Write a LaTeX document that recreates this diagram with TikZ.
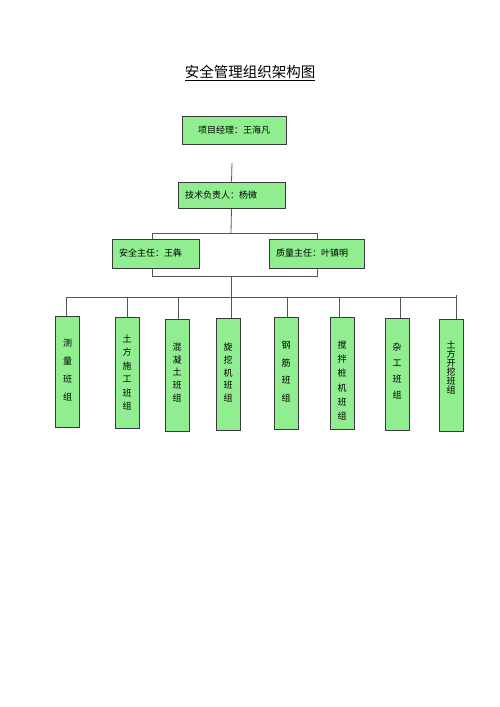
\documentclass[tikz,border=0pt]{standalone}
\usepackage{fontspec}
\setmainfont{Noto Sans CJK SC}
\usetikzlibrary{backgrounds}
\definecolor{boxgreen}{HTML}{90EE90}
\definecolor{boxline}{HTML}{3A3A3A}
\definecolor{linegray}{HTML}{555555}
\begin{document}
\begin{tikzpicture}[x=1pt,y=-1pt,
  box/.style={draw=boxline, fill=boxgreen, line width=0.8pt, inner sep=0pt,
              font=\fontsize{9}{11}\selectfont},
  lbox/.style={box, inner xsep=7pt, align=left},
  colbox/.style={box, minimum width=24pt},
  conn/.style={draw=linegray, line width=0.8pt},
  coltext/.style={font=\fontsize{9}{#1}\selectfont, align=center, inner sep=0pt}]
\useasboundingbox (0,0) rectangle (500,707);

\node[font=\fontsize{14.5}{17}\selectfont] (title) at (250,73) {\underline{安全管理组织架构图}};

\node[box, minimum width=104pt, minimum height=28pt] (pm) at (234,130) {项目经理：王海凡};
\node[lbox, minimum width=107pt, minimum height=26pt, text width=93pt] (tech) at (231.5,195) {技术负责人：杨微};
\node[lbox, minimum width=87pt, minimum height=29pt, text width=73pt] (saf) at (155.5,253.5) {安全主任：王犇};
\node[lbox, minimum width=95pt, minimum height=29pt, text width=81pt] (qual) at (316.5,253.5) {质量主任：叶镇明};

\node[colbox, minimum height=111pt] (c1) at (67.5,371.5) {};
\node[colbox, minimum height=111pt] (c2) at (127,372.5) {};
\node[colbox, minimum height=112pt] (c3) at (177,375) {};
\node[colbox, minimum height=112pt] (c4) at (228,374) {};
\node[colbox, minimum height=112pt] (c5) at (286,373) {};
\node[colbox, minimum height=112pt] (c6) at (342,373) {};
\node[colbox, minimum height=112pt] (c7) at (397,374) {};
\node[colbox, minimum height=112pt] (c8) at (451,375) {};

\node[coltext=18, yshift=1.5pt] (t1) at (c1) {测\\量\\班\\组};
\node[coltext=13.4] (t2) at (c2) {土\\方\\施\\工\\班\\组};
\node[coltext=12.75, yshift=2.5pt] (t3) at (c3) {混\\凝\\土\\班\\组};
\node[coltext=12.75, yshift=1.5pt] (t4) at (c4) {旋\\挖\\机\\班\\组};
\node[coltext=17.7, yshift=1.5pt] (t5) at (c5) {钢\\筋\\班\\组};
\node[coltext=14.2, yshift=-7.5pt] (t6) at (c6) {搅\\拌\\桩\\机\\班\\组};
\node[coltext=16, yshift=3pt] (t7) at (c7) {杂\\工\\班\\组};
\node[coltext=9, yshift=7.5pt] (t8) at (c8) {土\\方\\开\\挖\\班\\组};

\begin{scope}[on background layer]
  \fill[white] (0,0) rectangle (500,707);
  \coordinate (t0) at (232,163);
  \coordinate (j1) at (231,233);
  \coordinate (jl) at (152,233);
  \coordinate (jr) at (317,233);
  \coordinate (kl) at (152,276);
  \coordinate (kr) at (317,276);
  \coordinate (k) at (231,276);
  \coordinate (m) at (231,297);
  \coordinate (b0) at (66,297);
  \coordinate (b9) at (456,297);
  \coordinate (s1) at (66,297);
  \coordinate (s2) at (127,297);
  \coordinate (s3) at (178,297);
  \coordinate (s4) at (231,297);
  \coordinate (s5) at (287,297);
  \coordinate (s6) at (339,297);
  \coordinate (s7) at (400,297);
  \coordinate (s8) at (456,295);
  \draw[conn] (t0) -- (tech.north);
  \draw[conn] (tech.south) -- (j1);
  \draw[conn] (jl) -- (jr) -- (kr) -- (kl) -- cycle;
  \draw[conn] (k) -- (m);
  \draw[conn] (b0) -- (b9);
  \foreach \i in {1,...,8} {
    \draw[conn] (s\i) -- (s\i |- c\i.north);
  }
\end{scope}
\end{tikzpicture}
\end{document}
